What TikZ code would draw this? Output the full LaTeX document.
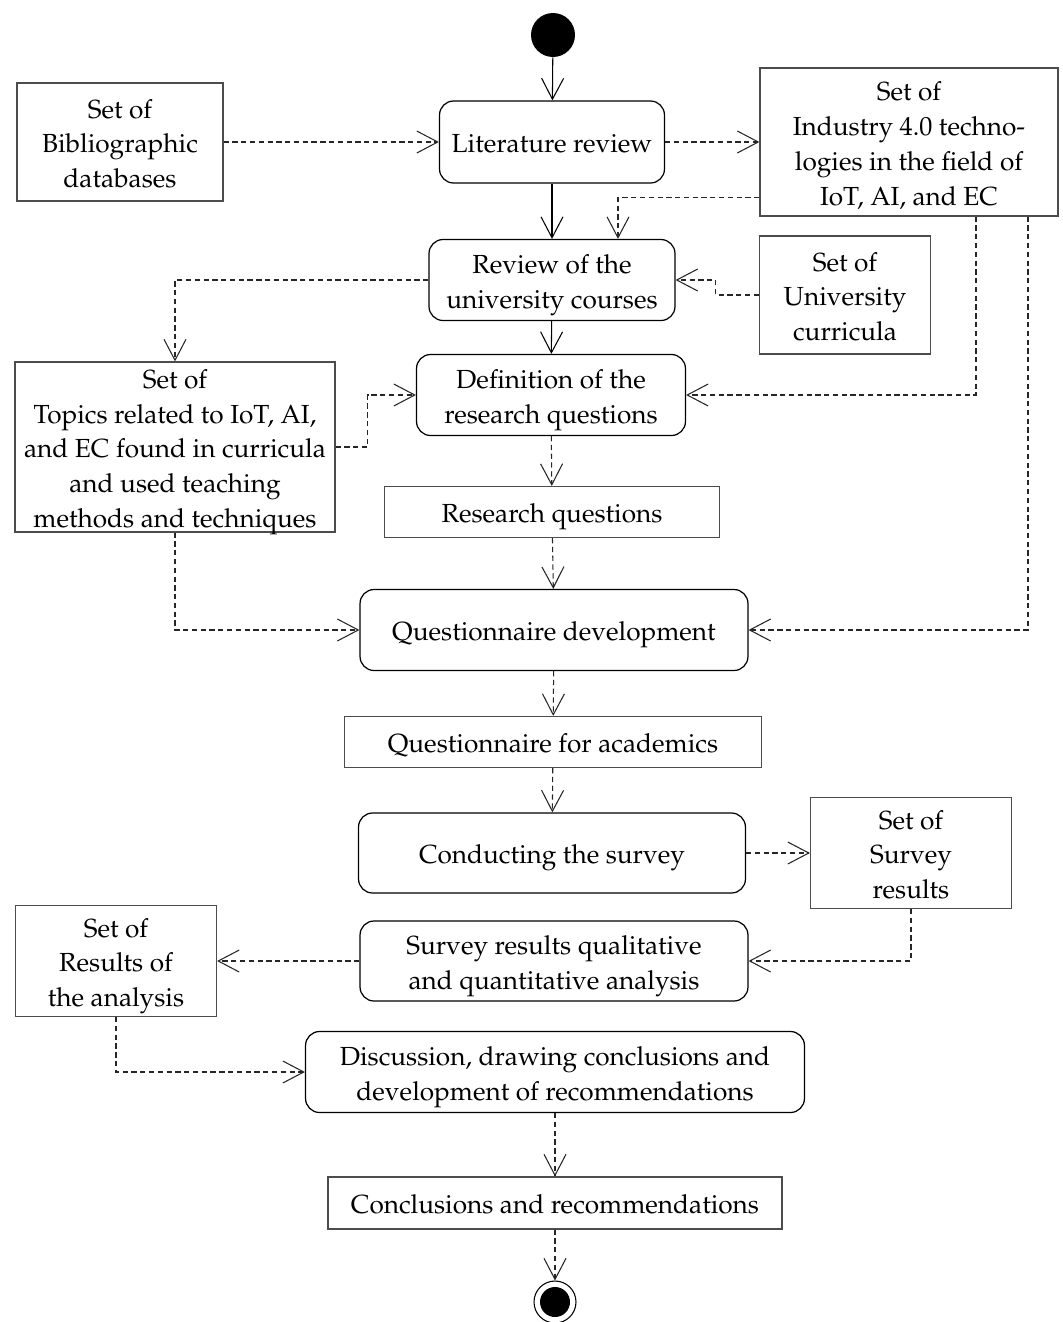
\documentclass[tikz,border=0pt]{standalone}
\usepackage[T1]{fontenc}
\usepackage{mathpazo}
\usetikzlibrary{arrows.meta, positioning, shapes.geometric}

% struts for the first and the last line of a box
\newcommand{\topln}{\rule{0pt}{17pt}}
\newcommand{\botln}{\rule[-4.5pt]{0pt}{4.5pt}}

\begin{document}
\begin{tikzpicture}[
    x=0.02cm, y=-0.02cm,
    font=\fontsize{14.9}{19.9}\selectfont,
    activity/.style={rectangle, rounded corners=2.8mm, draw=black, line width=0.7pt,
                     inner sep=2pt, align=center},
    artifact/.style={rectangle, draw=black!70, line width=0.7pt, inner sep=2pt, align=center},
    flow/.style={-{Straight Barb[length=4.2mm, width=4.4mm, line width=0.6pt]}, line width=0.6pt},
    objflow/.style={flow, draw=black!85, dash pattern=on 3pt off 2pt}
]
\useasboundingbox (0,0) rectangle (1062,1322);

% --- Inicio y fin ---
\node[circle, fill=black, minimum size=0.88cm, inner sep=0] (start) at (553,35) {};
\node[circle, draw=black, line width=0.6pt, minimum size=0.84cm, inner sep=0] (end) at (555,1302) {};
\node[circle, fill=black, minimum size=0.6cm, inner sep=0] at (end) {};

% --- Actividades ---
\node[activity, minimum width=4.5cm, minimum height=1.64cm] (litrev) at (552,142) {\topln Literature review\botln};
\node[activity, minimum width=4.92cm, minimum height=1.62cm] (review) at (552,280) {\topln Review of the\\university courses\botln};
\node[activity, minimum width=5.38cm, minimum height=1.62cm] (definition) at (551,395) {\topln Definition of the\\research questions\botln};
\node[activity, minimum width=7.76cm, minimum height=1.62cm] (qdev) at (554,630) {\topln Questionnaire development\botln};
\node[activity, minimum width=7.74cm, minimum height=1.6cm] (survey) at (552,853) {\topln Conducting the survey\botln};
\node[activity, minimum width=7.76cm, minimum height=1.6cm] (analysis) at (554,961) {\topln Survey results qualitative\\and quantitative analysis\botln};
\node[activity, minimum width=9.98cm, minimum height=1.62cm] (discussion) at (555,1072) {\topln Discussion, drawing conclusions and\\development of recommendations\botln};

% --- Objetos ---
\node[artifact, minimum width=4.12cm, minimum height=2.36cm] (biblio) at (120,142) {\topln Set of\\Bibliographic\\databases\botln};
\node[artifact, inner ysep=0pt, minimum width=5.96cm, minimum height=2.96cm] (industry) at (909,142) {\topln Set of\\Industry 4.0 techno-\\logies in the field of\\IoT, AI, and EC\botln};
\node[artifact, minimum width=3.42cm, minimum height=2.36cm] (curricula) at (845,295) {\topln Set of\\University\\curricula\botln};
\node[artifact, inner ysep=-2.2pt, minimum width=6.4cm, minimum height=3.4cm] (topics) at (175,447) {\topln Set of\\Topics related to IoT, AI,\\and EC found in curricula\\and used teaching\\methods and techniques\botln};
\node[artifact, minimum width=6.7cm, minimum height=1.02cm] (rq) at (552,512) {\topln Research questions\botln};
\node[artifact, minimum width=8.34cm, minimum height=1.02cm] (qacad) at (553,742) {\topln Questionnaire for academics\botln};
\node[artifact, inner ysep=0pt, minimum width=4.02cm, minimum height=2.22cm] (sresults) at (911,853) {\topln Set of\\Survey\\results\botln};
\node[artifact, inner ysep=0pt, minimum width=4.02cm, minimum height=2.22cm] (aresults) at (116,961) {\topln Set of\\Results of\\the analysis\botln};
\node[artifact, minimum width=9.08cm, minimum height=1.04cm] (conclusions) at (555,1203) {\topln Conclusions and recommendations\botln};

% --- Flujo de control ---
\draw[flow] (start) -- (litrev);
\draw[flow] (litrev) -- (review);
\draw[flow] (review) -- (definition);

% --- Flujo de objetos ---
\draw[objflow] (biblio) -- (litrev);
\draw[objflow] (litrev) -- (industry);
\draw[objflow] ([yshift=0.38cm]industry.south west) -| ([xshift=1.32cm]review.north);
\draw[objflow] (curricula.west) -- ++(-43,0) |- (review.east);
\draw[objflow] (review.west) -| (topics.north);
\draw[objflow] (topics.east) -- ++(32,0) |- (definition.west);
\draw[objflow] ([xshift=1.34cm]industry.south) |- (definition.east);
\draw[objflow] ([xshift=2.38cm]industry.south) |- (qdev.east);
\draw[objflow] (definition) -- (rq);
\draw[objflow] (rq) -- (qdev);
\draw[objflow] (topics.south) |- (qdev.west);
\draw[objflow] (qdev) -- (qacad);
\draw[objflow] (qacad) -- (survey);
\draw[objflow] (survey) -- (sresults);
\draw[objflow] (sresults.south) |- (analysis.east);
\draw[objflow] (analysis) -- (aresults);
\draw[objflow] (aresults.south) |- (discussion.west);
\draw[objflow] (discussion) -- (conclusions);
\draw[objflow] (conclusions) -- (end);

\end{tikzpicture}
\end{document}
